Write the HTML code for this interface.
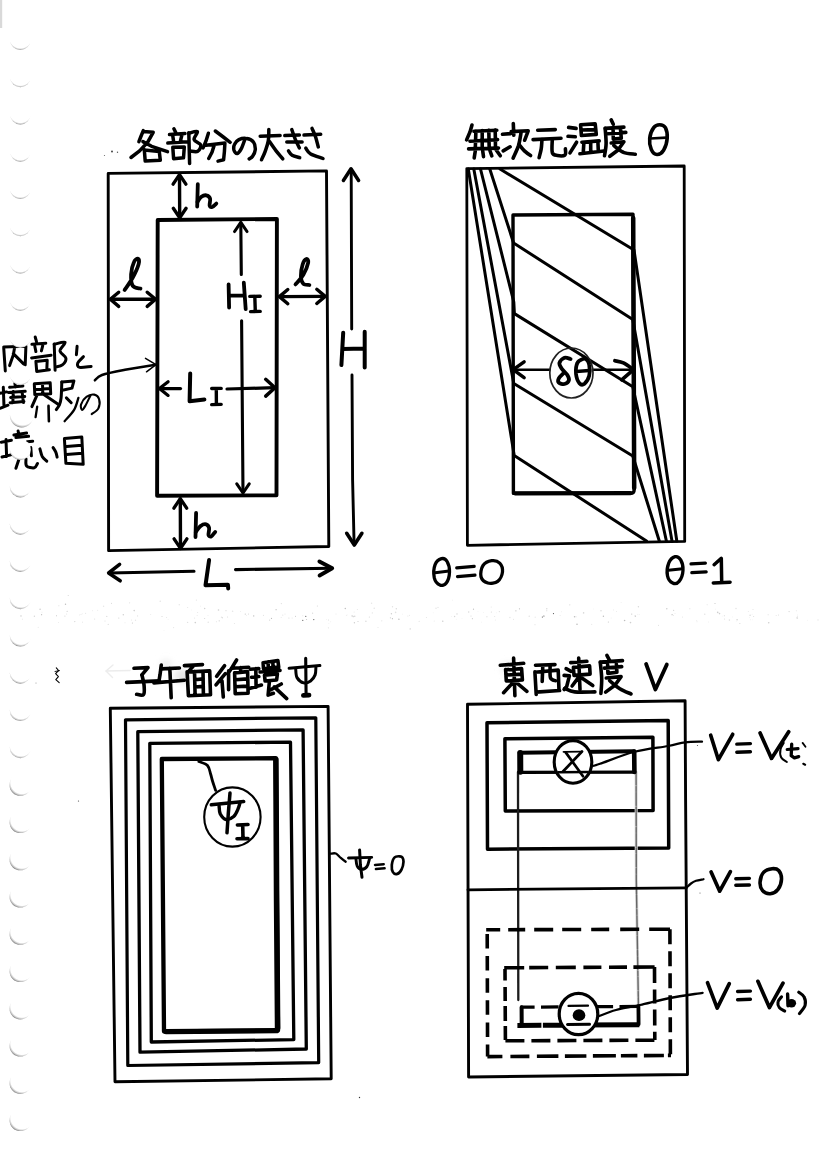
<!DOCTYPE html>
<html lang="ja">
<head>
<meta charset="utf-8">
<title>各部分の大きさ・無次元温度・子午面循環・東西速度</title>
<style>
html,body{margin:0;padding:0;background:#fff;font-family:"Liberation Sans",sans-serif;}
body{width:828px;height:1167px;overflow:hidden;}
svg{display:block;}
</style>
</head>
<body>
<svg width="828" height="1167" viewBox="0 0 828 1167">
<defs>
<radialGradient id="holeA" cx="51%" cy="37%" r="64%">
<stop offset="0" stop-color="#fff"/>
<stop offset="0.84" stop-color="#fff"/>
<stop offset="0.93" stop-color="#c8c8c8"/>
<stop offset="0.98" stop-color="#8c8c8c"/>
<stop offset="1" stop-color="#7c7c7c"/>
</radialGradient>
<radialGradient id="holeB" cx="54%" cy="37%" r="65%">
<stop offset="0" stop-color="#fff"/>
<stop offset="0.81" stop-color="#fff"/>
<stop offset="0.91" stop-color="#c8c8c8"/>
<stop offset="0.97" stop-color="#8a8a8a"/>
<stop offset="1" stop-color="#777"/>
</radialGradient>
<radialGradient id="holeC" cx="58%" cy="38%" r="67%">
<stop offset="0" stop-color="#fff"/>
<stop offset="0.78" stop-color="#fff"/>
<stop offset="0.88" stop-color="#c8c8c8"/>
<stop offset="0.96" stop-color="#808080"/>
<stop offset="1" stop-color="#6c6c6c"/>
</radialGradient>
<filter id="smudge" x="-50%" y="-50%" width="200%" height="200%"><feGaussianBlur stdDeviation="3"/></filter>
<filter id="soft" x="-2%" y="-2%" width="104%" height="104%"><feGaussianBlur stdDeviation="0.3"/></filter>
</defs>
<rect width="828" height="1167" fill="#fff"/>
<g fill="none" stroke="#000" stroke-linecap="round" stroke-linejoin="round" filter="url(#soft)">
<g filter="url(#smudge)" stroke="none"><ellipse cx="183" cy="676" rx="9" ry="7" fill="#e4e4e4"/><ellipse cx="166" cy="664" rx="6" ry="4" fill="#ededed"/><ellipse cx="508" cy="668" rx="7" ry="6" fill="#efefef"/></g>
<g><desc>各部分の大きさ : h, ℓ, H_I, L_I, H, L ／ 内部と境界層の境い目</desc>
<path d="M108.2 173.4 L326.5 170.9 L328.8 546.5 L108.6 550.6Z" stroke="#000" stroke-width="2.9"/>
<path d="M157.7 220 L276.9 219 L276.5 495.3 L157.1 495.7Z" stroke="#000" stroke-width="3.9"/>
<path d="M179.5 175 L179.7 217.5" stroke="#000" stroke-width="3.4"/>
<path d="M185.9 184.1 L179.5 174.6 L173.1 184.1" stroke="#000" stroke-width="3.4"/>
<path d="M173.3 208.3 L179.7 217.8 L186.1 208.3" stroke="#000" stroke-width="3.4"/>
<path d="M180.3 499 L180.5 548" stroke="#000" stroke-width="3.4"/>
<path d="M186.7 508.1 L180.3 498.6 L173.9 508.1" stroke="#000" stroke-width="3.4"/>
<path d="M174.1 538.9 L180.5 548.4 L186.9 538.9" stroke="#000" stroke-width="3.4"/>
<path d="M110.5 299.3 L155.5 299.3" stroke="#000" stroke-width="3.4"/>
<path d="M118.7 292.2 L110.3 299.3 L118.7 306.4" stroke="#000" stroke-width="3.4"/>
<path d="M147.2 306.4 L155.6 299.3 L147.2 292.2" stroke="#000" stroke-width="3.4"/>
<path d="M279.6 296.6 L325 296.4" stroke="#000" stroke-width="3.4"/>
<path d="M287.8 289.5 L279.4 296.6 L287.8 303.7" stroke="#000" stroke-width="3.4"/>
<path d="M316.8 303.5 L325.2 296.4 L316.8 289.3" stroke="#000" stroke-width="3.4"/>
<path d="M240.8 223 L241.3 274.5" stroke="#000" stroke-width="3.1"/>
<path d="M247 231.5 L240.8 222.4 L234.6 231.5" stroke="#000" stroke-width="3.1"/>
<path d="M241.6 320.7 L243 492.3" stroke="#000" stroke-width="3.1"/>
<path d="M236.8 483.9 L243 493 L249.2 483.9" stroke="#000" stroke-width="3.1"/>
<path d="M159.6 388.6 L180.5 388.6" stroke="#000" stroke-width="3.2"/>
<path d="M168.1 381.8 L159.4 388.6 L168.1 395.4" stroke="#000" stroke-width="3.2"/>
<path d="M227 389 L274.8 387.7" stroke="#000" stroke-width="3.2"/>
<path d="M265.7 396.1 L275 387.7 L265.7 379.3" stroke="#000" stroke-width="3.5"/>
<path d="M351.2 170 L351.7 329" stroke="#000" stroke-width="2.9"/>
<path d="M358.6 180.5 L351 168.8 L343.4 180.5" stroke="#000" stroke-width="3.5"/>
<path d="M352 375 L352.6 480 L354.1 544" stroke="#000" stroke-width="2.9"/>
<path d="M346.7 533.3 L354.3 545 L361.9 533.3" stroke="#000" stroke-width="3.6"/>
<path d="M109.5 573 L194 571.2" stroke="#000" stroke-width="3.1"/>
<path d="M119.6 564.4 L108.6 573 L120.2 580.8" stroke="#000" stroke-width="3.5"/>
<path d="M235.5 569.6 L331.5 568.3" stroke="#000" stroke-width="3.1"/>
<path d="M319.6 575.5 L332.2 568.3 L319.4 561.5" stroke="#000" stroke-width="3.9"/>
<path d="M94.9 380.3 C96.1 379.4 97 376.8 102 375 C107 373.2 116.1 371.5 125 369.8 C133.9 368.1 150.4 365.6 155.5 364.8" stroke="#000" stroke-width="2.6"/>
<path d="M145.5 358.3 L156 364.6 L146.5 371.8" stroke="#000" stroke-width="1.5"/>
<path d="M197.8 184.2 L197.2 206.5" stroke="#000" stroke-width="3.8"/>
<path d="M197.5 201.9 C198.1 201 199.9 197.9 201.4 196.8 C202.9 195.7 205 195 206.4 195.4 C207.9 195.7 209.5 197 210.1 198.7 C210.6 200.4 209.3 204.1 209.6 205.5 C210 206.9 211.1 207.3 212.2 207 C213.4 206.6 215.6 204.2 216.3 203.6" stroke="#000" stroke-width="3.8"/>
<path d="M124.6 290 C125.9 288 130.2 282.3 132.5 278 C134.9 273.7 137.7 267.4 138.6 264.2 C139.5 261 138.8 259.1 138 258.7 C137.3 258.3 135.1 259.4 134 262 C132.8 264.6 131.3 270.4 131.1 274.3 C130.9 278.3 131.3 283.6 132.8 285.9 C134.4 288.3 139.2 288.1 140.5 288.6" stroke="#000" stroke-width="3.8"/>
<path d="M196.1 512.9 L195.5 537" stroke="#000" stroke-width="3.8"/>
<path d="M195.8 531.9 C196.7 530.9 199 527.1 200.7 525.9 C202.4 524.6 204.7 524 206.1 524.3 C207.5 524.7 208.7 526.2 209.1 528 C209.5 529.7 208.2 533.5 208.5 534.9 C208.9 536.3 210.1 536.9 211.2 536.4 C212.4 535.9 214.5 532.7 215.2 531.9" stroke="#000" stroke-width="3.8"/>
<path d="M209.1 560 L205.5 585.3 L227.9 584.7 L228.2 588.4" stroke="#000" stroke-width="4"/>
<path d="M295.5 284.4 C296.8 282.8 301.2 278.4 303.3 274.7 C305.4 271.1 307.7 265.3 308.2 262.7 C308.7 260 307.3 258.8 306.4 259 C305.4 259.3 303.6 261.3 302.7 264.2 C301.8 267 300.8 273 300.9 276.2 C301 279.5 301.9 282.3 303.3 283.8 C304.7 285.3 308.4 284.8 309.4 285" stroke="#000" stroke-width="3.8"/>
<path d="M228.6 284.4 L229.1 307.5 M243.8 282.7 L245.7 309.2 M229.1 295.7 L244.7 295.4" stroke="#000" stroke-width="3.8"/>
<path d="M249.8 296.4 L260.2 296.2 M254.8 296.4 L255.3 311.4 M250.6 311.6 L260.2 311.4" stroke="#000" stroke-width="3.4"/>
<path d="M190.2 373.5 L189.6 401.2 L204.4 399.5" stroke="#000" stroke-width="4"/>
<path d="M211.7 388.5 L221.2 388.4 M216.3 388.5 L216.4 404.4 M211.7 404.6 L221.2 404.4" stroke="#000" stroke-width="3.4"/>
<path d="M343.2 332.7 L341.4 365.1 M364.7 331.7 L364.7 367.6 M342.4 348.9 L364.7 348.6" stroke="#000" stroke-width="4"/>
<path d="M143.3 130.6 L140.7 137 L138.9 141.6 M143.3 131.4 L153.2 132.3 L147.6 142.3 L139.6 150.9 L131 157.5 M142.9 141.6 L151.6 146.3 L167.5 151.6 M144.3 149.6 L145.2 161.1 L160.3 160.3 L159.3 151.6 L144.3 150" stroke="#000" stroke-width="3.5"/>
<path d="M173.9 128.7 L176.1 133.2 M169.5 134.6 L185 133.5 M172.8 135.9 L173.6 141.6 M181.9 135 L180.3 141.6 M167.8 143.1 L187.4 141.7 M172.8 147.3 L173.6 158.7 L183.5 157.8 L184.3 146.9 L172.8 147.3 M188.8 132.7 L189.6 163.5" stroke="#000" stroke-width="3.5"/>
<path d="M188.8 133.2 C190.2 133 196.5 130.6 197.4 131.6 C198.3 132.7 193.5 137.4 194.1 139.6 C194.6 141.8 200.1 143 200.7 144.9 C201.3 146.9 199.5 150.3 197.8 151.3 C196.1 152.3 191.6 151.1 190.4 151" stroke="#000" stroke-width="3.5"/>
<path d="M208.4 133.2 L206 140.9 L203.1 147.9 M215.3 131 L223.3 137 L230.2 142.3 M206 145.2 L224.9 142.9 L224.4 151.6 L223.6 159.8 L218 161.1 M214.3 144.9 L212 152.2 L208.7 158.5" stroke="#000" stroke-width="3.5"/>
<path d="M244.9 139.3 C244.3 140.9 242.5 146.5 241.2 148.9 C239.9 151.3 238.4 153.3 237.2 153.6 C236 153.8 234.5 151.8 234 150.2 C233.6 148.7 233.7 146 234.6 144.3 C235.4 142.5 236.9 140.6 238.9 139.6 C241 138.7 244.5 138.1 246.9 138.6 C249.4 139 252.2 140.4 253.6 142.3 C255 144.1 255.4 147.3 255.3 149.6 C255.1 151.9 253.7 154.7 252.6 156.2 C251.6 157.8 249.8 158.4 249.2 158.9" stroke="#000" stroke-width="3.5"/>
<path d="M260.2 136.3 L280.1 135.6" stroke="#000" stroke-width="3.5"/>
<path d="M268.8 129.6 C268.8 131.5 268.9 137.3 268.3 140.9 C267.7 144.6 266.2 148.4 265.1 151.6 C264 154.7 262.1 158.4 261.5 159.8" stroke="#000" stroke-width="3.5"/>
<path d="M269.5 141.6 C270.6 143.2 273.9 148 276.1 150.9 C278.4 153.8 281.7 157.5 282.8 158.9" stroke="#000" stroke-width="3.5"/>
<path d="M284.8 135.6 L299.4 135 M286.8 142 L302.1 142" stroke="#000" stroke-width="3.5"/>
<path d="M291.8 129.6 C292.4 131.3 294.1 136.6 295.4 139.6 C296.7 142.6 298.7 146.5 299.4 147.9" stroke="#000" stroke-width="3.5"/>
<path d="M288.5 150.9 C289.1 151.6 290.2 154.2 292.1 155.3 C293.9 156.4 298.4 157.3 299.7 157.7" stroke="#000" stroke-width="3.5"/>
<path d="M304 135.1 L320.7 134.3" stroke="#000" stroke-width="3.5"/>
<path d="M312 128.3 C312.6 129.8 314.6 133.9 315.6 137 C316.6 140.1 317.8 145.3 318.3 146.9" stroke="#000" stroke-width="3.5"/>
<path d="M305.8 148.2 C306.6 149.2 307.8 152.3 310.7 154 C313.6 155.7 321 157.7 323 158.5" stroke="#000" stroke-width="3.5"/>
<path d="M3.7 347.6 L5.3 370.9 M3.7 347 L25.9 346.3 L25.2 364.9 M14.6 347.6 L13.3 354.9 L9.6 365.6 M13.3 353.6 L24.6 364.9" stroke="#000" stroke-width="3"/>
<path d="M35.2 337 L36.5 341.6 M31.9 344.3 L45.8 343.2 M34.8 346.2 L35.9 351.6 M42.8 345.4 L41.4 350.9 M31.6 357.9 L51.1 355.3 M35.9 361.3 L36.7 371.4 L49.4 369.8 M35.9 361.6 L47.2 360.2 L46.8 370.1 M54.2 344 L55.1 370.2" stroke="#000" stroke-width="3"/>
<path d="M54.2 344.3 C56 344 64.1 341.2 65.1 342.3 C66.1 343.4 59.9 348.3 60 350.9 C60.2 353.6 65.5 355.9 65.9 358.2 C66.3 360.6 64.1 363.5 62.4 364.9 C60.8 366.3 56.9 366.6 55.8 366.9" stroke="#000" stroke-width="3"/>
<path d="M77.1 346.3 L76.4 354.7" stroke="#000" stroke-width="3"/>
<path d="M83.4 356.7 C82.5 357.7 78.3 361.4 77.7 363.2 C77.1 365 77.5 366.9 79.7 367.4 C81.9 367.9 89.2 366.5 91.1 366.4" stroke="#000" stroke-width="3"/>
<path d="M3.3 387.3 L4 406.6 M0 393.3 L6.6 391.9 M0 408.3 L8 405.2 M9.6 387.3 L22.9 386 M14.9 383.3 L15.4 387.3 M8.6 392.6 L25.2 391.3 M10.6 397.5 L24.7 396.6 M10.1 402.7 L23.9 401.4 M13.3 391.6 L12.8 402.7 M22.1 391.6 L23.4 402.7" stroke="#000" stroke-width="3"/>
<path d="M34.3 384 L34.8 394.6 L50.7 393.7 L50.2 382.8 L34.3 383.8 M34.8 389.4 L50.5 388.4 M42.5 383.3 L42.8 393.9 M36.9 395.3 L31.9 406.6 M43.8 394.6 L58.5 404.6" stroke="#000" stroke-width="3"/>
<path d="M37.2 406.6 L35.6 417.2" stroke="#000" stroke-width="2.3"/>
<path d="M48.5 405.9 L48.9 421.2" stroke="#000" stroke-width="2.6"/>
<path d="M61.8 382 L73.9 380.9 L72 388.1 L62.4 390.2 M66.4 397.9 L71.2 402.7" stroke="#000" stroke-width="3"/>
<path d="M61.8 382 C61.7 384.6 61.5 394.2 61.1 397.9 C60.7 401.7 60.3 402.6 59.5 404.6 C58.7 406.5 56.9 408.8 56.3 409.6" stroke="#000" stroke-width="3"/>
<path d="M78.4 397.9 C77.7 399.9 76.4 406 74.1 409.9 C71.8 413.8 66.2 419.3 64.6 421.2" stroke="#000" stroke-width="2.3"/>
<path d="M90.6 395.3 C89.7 397 86.7 403.5 85.3 405.9 C83.9 408.3 82.8 410.1 82.1 409.9 C81.4 409.7 80.3 406.7 81 404.6 C81.7 402.4 84.1 398.5 86.4 396.9 C88.6 395.2 92.2 394.2 94.3 394.6 C96.4 395 98.4 396.9 99.1 399.3 C99.8 401.6 99.5 406.1 98.3 408.6 C97.1 411 92.8 413.2 91.7 414.1" stroke="#000" stroke-width="2.1"/>
<path d="M6 439.6 L6.6 456.4 M1.3 442.3 L11.4 440.3 M2 457 L10.9 454.9 M18.1 431 L18.9 435.1 M13.9 435.1 L26.6 433 M15.9 437.6 L28.6 436.3 M27.2 441.7 L32.7 441.2 M30.8 447.6 L31.4 455.8 M18.6 460.2 L15.9 468.3" stroke="#000" stroke-width="3"/>
<path d="M26 458.9 C26.1 460.1 25.2 464.4 26.6 465.9 C27.9 467.4 32.5 468.2 34.3 467.8 C36.1 467.4 36.9 464.2 37.5 463.5" stroke="#000" stroke-width="3"/>
<path d="M39.9 448.9 C40.3 450.2 41.1 454.3 42.2 456.4 C43.4 458.4 46 460.3 46.8 461.1" stroke="#000" stroke-width="3"/>
<path d="M53.1 447.6 C53.6 448.4 55.1 450.6 55.8 452.2 C56.5 453.8 56.9 456.3 57.1 457.1" stroke="#000" stroke-width="3"/>
<path d="M64.4 438.8 L65.9 463.3 L83.2 464.3 L81.8 437 L64.4 438.6 M66.4 446.4 L81.8 445.2 M66.4 454.4 L82.4 453.2" stroke="#000" stroke-width="3"/>
</g>
<g><desc>無次元温度 θ : δθ, θ=0, θ=1</desc>
<path d="M466.8 168.6 L684.2 166 L684.7 541.4 L467.4 545.3Z" stroke="#000" stroke-width="2.8"/>
<path d="M513.4 493 L513 215 L633 214.3 L634.2 489.5 Q634.2 493.5 630.5 493.4 L513.4 493.4" stroke="#000" stroke-width="3.4"/>
<path d="M633.2 218 L634.2 488" stroke="#000" stroke-width="4.5"/>
<path d="M515 493.3 L630.5 493.2" stroke="#000" stroke-width="4.2"/>
<path d="M489.8 169 L513.6 243 L632.8 319.5 L672 541" stroke="#000" stroke-width="3"/>
<path d="M480.5 169 L513.8 302 L514.4 313.6 L632.8 386.8 L666.4 541" stroke="#000" stroke-width="3"/>
<path d="M473.8 169 L513.8 383.5 L632.8 456 L659.3 541" stroke="#000" stroke-width="3"/>
<path d="M468.3 169 L514.2 455.5 L646.5 541" stroke="#000" stroke-width="3"/>
<path d="M500 169 L634 250 L676.8 541" stroke="#000" stroke-width="3"/>
<path d="M514 369.7 L549.3 369.7" stroke="#000" stroke-width="2.6"/>
<path d="M593 369.7 L632.5 369.7" stroke="#000" stroke-width="2.6"/>
<path d="M524.1 361.8 L513.2 369.7 L524.1 377.6" stroke="#000" stroke-width="3.5"/>
<path d="M614.9 360.7 C616.3 361.1 620.3 361.4 623.4 362.9 C626.5 364.4 631.8 368.5 633.5 369.7" stroke="#000" stroke-width="3.7"/>
<path d="M633.5 369.7 L621.7 379.8" stroke="#000" stroke-width="3.7"/>
<ellipse cx="571.4" cy="373" rx="21.6" ry="25" stroke="#222" stroke-width="1.7" fill="none"/>
<path d="M570.6 359 C569.6 358.8 566.4 357.2 564.5 357.8 C562.7 358.5 559.9 361.1 559.4 362.9 C559 364.7 560.5 366.8 561.8 368.8 C563.1 370.8 566 372.8 567.2 374.7 C568.4 376.7 569.4 378.8 568.9 380.3 C568.5 381.9 566.2 383.6 564.5 384 C562.8 384.4 559.7 383.6 558.8 382.7 C557.8 381.7 558 379.9 558.8 378.3 C559.6 376.7 562.7 374.1 563.5 373.2" stroke="#000" stroke-width="3.8"/>
<path d="M582.8 359 C581.3 359.6 578.5 360.4 577.4 362.9 C576.2 365.4 575.7 370.5 576 373.9 C576.4 377.3 578 381.6 579.4 383.2 C580.8 384.8 582.8 385 584.5 383.7 C586.1 382.4 588.4 378.8 589.2 375.6 C590 372.4 589.7 367.3 589.2 364.6 C588.8 361.9 587.6 360.4 586.5 359.5 C585.4 358.6 584.3 358.4 582.8 359Z" stroke="#000" stroke-width="3.8"/>
<path d="M576.4 371.5 L589.2 370.5" stroke="#000" stroke-width="3.3"/>
<path d="M441.5 558.7 C439.5 559.3 436.3 561.5 435.1 564.7 C433.9 567.9 433.6 574.5 434.3 577.9 C435.1 581.2 437.9 584.2 439.9 585 C441.9 585.9 444.7 585.2 446.3 583 C447.9 580.9 449.4 575.5 449.5 571.9 C449.6 568.3 448.4 563.7 447.1 561.5 C445.8 559.3 443.5 558.2 441.5 558.7Z" stroke="#000" stroke-width="3.3"/>
<path d="M435.1 572.7 L449.1 571.1" stroke="#000" stroke-width="3"/>
<path d="M456.7 567.9 L474.2 566.3" stroke="#000" stroke-width="3.2"/>
<path d="M457.5 576.7 L475 575.1" stroke="#000" stroke-width="3.2"/>
<path d="M491.7 560.7 C488.9 561.1 484.8 562.9 483 565.5 C481.2 568.2 480.2 573.7 481 576.7 C481.8 579.6 485 582.2 487.8 583 C490.5 583.8 495.3 583.3 497.7 581.4 C500.2 579.6 502.2 574.9 502.5 571.9 C502.8 568.8 501.5 565 499.7 563.1 C497.9 561.3 494.5 560.3 491.7 560.7Z" stroke="#000" stroke-width="3.3"/>
<path d="M675.1 556.7 C673.1 557.3 670 559.9 668.7 563.1 C667.4 566.3 666.8 572.5 667.5 575.9 C668.2 579.2 670.8 582.1 672.7 583 C674.6 584 677.3 583.6 679.1 581.4 C680.8 579.3 682.8 573.9 683 570.3 C683.3 566.7 682 562.2 680.7 559.9 C679.3 557.7 677.1 556.2 675.1 556.7Z" stroke="#000" stroke-width="3.3"/>
<path d="M668.3 570.3 L682.6 568.7" stroke="#000" stroke-width="3"/>
<path d="M691 563.9 L705.4 563.1" stroke="#000" stroke-width="3.2"/>
<path d="M691.8 572.7 L706.2 571.9" stroke="#000" stroke-width="3.2"/>
<path d="M714.1 564.7 L721.3 558.3 L721.7 582.2" stroke="#000" stroke-width="3.5"/>
<path d="M713.3 583 L730.1 582.2" stroke="#000" stroke-width="3.5"/>
<path d="M472 125 L470 131.9 L466.6 139.9 M474 131.3 L496.8 130.3 M470 141.2 L497.6 139.6 M468.6 148.9 L498.5 148.1 M475.9 131.1 L475.3 148.6 M482.2 130.6 L482.2 148.6 M488.8 130.3 L489.2 148.4 M495.2 130 L495.5 148.1 M475.3 151 L474.2 157.9 M482.7 151 L483.5 156.6 M489.9 150.5 L491.8 155.8 M496 149.7 L500.3 155.8" stroke="#000" stroke-width="3.6"/>
<path d="M502.5 134.3 L510.5 133.6 M503.2 150.9 L510.1 146.8 M513.3 123.6 L513.8 135.3 M511.2 131.6 L528.2 130.8 L524.7 140.2" stroke="#000" stroke-width="3.6"/>
<path d="M521.1 132.3 C520.7 134.5 519.8 141.2 518.5 145.6 C517.1 149.9 514 156.1 513.1 158.2" stroke="#000" stroke-width="3.6"/>
<path d="M519.1 144.6 C520 145.7 522.5 149.1 524.4 150.9 C526.3 152.7 529.5 154.8 530.6 155.5" stroke="#000" stroke-width="3.6"/>
<path d="M537.7 130.3 L555.3 129.6 M533.1 139.6 L561 138.3" stroke="#000" stroke-width="3.6"/>
<path d="M542 139.6 C541.8 141.1 541.7 145.9 541.2 148.9 C540.7 151.9 539.4 156.2 539.1 157.7" stroke="#000" stroke-width="3.6"/>
<path d="M552.3 139.1 C552.3 141.3 551.5 149.9 552.3 152.6 C553.2 155.3 555.3 155.1 557.4 155.5 C559.5 155.9 563.6 156.1 565 155 C566.3 153.9 565.3 149.9 565.4 148.9" stroke="#000" stroke-width="3.6"/>
<path d="M568.6 127.4 L576.1 128.4 M568 136.3 L575.3 136.8 M570 152.9 L576.6 142.2 M580.6 125 L581.4 135.5 L596.3 134.4 L595.2 123.9 L580.6 124.7 M581.4 130 L595.5 129.6 M581.9 142.2 L599.2 140.9 M583.9 142.2 L583.3 151.8 M590.7 141.7 L590.7 151.8 M597.9 141.2 L598.3 151 M579.9 153.7 L604 151" stroke="#000" stroke-width="3.6"/>
<path d="M611.2 119.9 L613.3 124.3 M605.2 128.4 L623.9 127.1 M607.8 133.7 L625.8 132.4 M613.1 129.6 L613.3 139.1 L621.3 138.3 L620.5 129" stroke="#000" stroke-width="3.6"/>
<path d="M605.2 128.4 C605.3 130.9 606.2 139 606.1 143.6 C606 148.1 604.8 153.8 604.5 155.8" stroke="#000" stroke-width="3.6"/>
<path d="M611.2 143 L623.9 141.7 L617.8 150.2 L609.8 156.3" stroke="#000" stroke-width="3.6"/>
<path d="M613.8 145.6 C615.4 146.7 619.8 150.9 623.4 152.3 C627 153.8 633.3 154 635.3 154.3" stroke="#000" stroke-width="3.6"/>
<path d="M659.6 124.7 C657.7 124.7 655.3 125.4 653.7 127.6 C652 129.9 650.1 134.6 649.7 138.3 C649.3 141.9 650.1 146.8 651.3 149.5 C652.5 152.2 654.9 154.4 657 154.5 C659 154.6 661.9 152.9 663.6 150.2 C665.3 147.5 666.9 142 667.2 138.3 C667.5 134.5 666.6 129.9 665.4 127.6 C664.1 125.4 661.6 124.7 659.6 124.7Z" stroke="#000" stroke-width="3.6"/>
<path d="M650.3 138.5 L666.7 137.6" stroke="#000" stroke-width="2.6"/>
</g>
<g><desc>子午面循環 ψ : ψ_I, ψ=0</desc>
<path d="M110.3 708.3 L328.1 706.4 L331.2 1078.8 L115 1081.8Z" stroke="#000" stroke-width="2.9"/>
<path d="M125.5 719.8 L315.8 717.8 L318.7 1062.6 L127.8 1065.5Z" stroke="#000" stroke-width="3.2"/>
<path d="M137.8 731.7 L303.1 729.9 L306.3 1049 L140 1052.2Z" stroke="#000" stroke-width="3.3"/>
<path d="M149.8 743.3 L290.5 742.2 L293.8 1039.6 L151.3 1042Z" stroke="#000" stroke-width="3.3"/>
<path d="M161.8 759 L275.8 758.2 L278 1030.5 L164 1031.5Z" stroke="#000" stroke-width="4.3"/>
<path d="M275.9 759.5 L276.6 900 L277.6 1028" stroke="#000" stroke-width="5.6"/>
<path d="M166 1031.6 L276.5 1030.7" stroke="#000" stroke-width="5.2"/>
<ellipse cx="232.4" cy="817" rx="28.2" ry="29.6" stroke="#000" stroke-width="2.1" fill="#fff"/>
<path d="M198.9 761.5 C200.3 762.2 205.6 763.4 207.5 765.5 C209.4 767.6 209.8 771.4 210.6 774 C211.4 776.6 211.7 778.3 212.5 781 C213.3 783.7 215.1 788.8 215.6 790.4" stroke="#000" stroke-width="2.8"/>
<path d="M230 793 L228.3 813.5 L227 832.8" stroke="#000" stroke-width="3.5"/>
<path d="M211.3 804.8 L243.7 801.6" stroke="#000" stroke-width="3.5"/>
<path d="M219.1 805.9 C219.3 807.2 219.1 811.4 220.2 813.7 C221.4 816 223.8 819 226.1 819.5 C228.3 819.9 231.7 818.2 233.7 816.5 C235.7 814.8 237 811.4 238 809.1 C239.1 806.8 239.7 803.7 240 802.6" stroke="#000" stroke-width="3.4"/>
<path d="M237.4 825 L248 824.5 M242.7 825 L243 838.5 M237 838.8 L248 838.6" stroke="#000" stroke-width="3.6"/>
<path d="M330.4 853.7 C331.3 853.7 334.1 852.8 335.9 853.5 C337.6 854.2 339.1 856.6 340.8 857.9 C342.4 859.3 344.8 861.1 345.7 861.7" stroke="#000" stroke-width="2.3"/>
<path d="M359.6 850 L360.4 865 L362 877.3" stroke="#000" stroke-width="3"/>
<path d="M348.5 858 L371.7 857.4" stroke="#000" stroke-width="2.9"/>
<path d="M355.9 858.5 C356.1 859.7 356.2 864.3 357.2 866.1 C358.1 867.9 359.9 869.3 361.5 869.3 C363.2 869.4 365.6 868.3 367 866.5 C368.3 864.7 369.1 859.8 369.6 858.5" stroke="#000" stroke-width="2.9"/>
<path d="M375 864.9 L383.7 864.2 M375.9 868.9 L384.6 868.3" stroke="#000" stroke-width="2.5"/>
<path d="M400 856.3 C398.7 856.3 395.9 855.9 394.6 857.4 C393.2 858.8 392.1 862.6 391.8 865 C391.6 867.4 392 870.6 392.9 872.1 C393.8 873.6 395.8 874.4 397.3 873.9 C398.7 873.5 400.6 871.4 401.6 869.3 C402.7 867.3 403.4 863.7 403.5 861.7 C403.6 859.7 403 858.3 402.4 857.4 C401.8 856.5 401.3 856.3 400 856.3Z" stroke="#000" stroke-width="2.7"/>
<path d="M134 668.3 L148 667.6 L141.9 674.9 M126.6 682.4 L159.5 680.9" stroke="#000" stroke-width="3.6"/>
<path d="M141.9 674.9 C142.3 676.7 143.8 682.3 144.1 685.6 C144.3 688.8 144.8 693.1 143.5 694.6 C142.3 696.1 137.8 694.4 136.6 694.3" stroke="#000" stroke-width="3.6"/>
<path d="M161.2 668.9 L179.4 668 M153.9 682.9 L184.4 680.2 M169.8 668.3 L171.2 697.8" stroke="#000" stroke-width="3.6"/>
<path d="M161.3 665 C161.1 666.6 160.3 672.5 160 674.9 C159.6 677.4 159.3 678.9 159.2 679.7" stroke="#000" stroke-width="3.6"/>
<path d="M184.4 665.6 L202.5 664.6 M193.7 665.6 L188.4 671.6 M187.1 671.7 L188.4 695.7 L210.5 694.7 L209.7 670.9 L187.1 672 M194.5 671.6 L195.1 694.9 M203 671.2 L203.4 694.6 M194.8 679.7 L203.3 678.9 M194.9 687 L203.3 686.4" stroke="#000" stroke-width="3.6"/>
<path d="M224.6 665.6 L216.6 676.3 M225.3 673.6 L216 684.9 M222 680.9 L223.3 697 M236.6 660 L231.9 667.6 L227.9 673.9 M228.6 670.9 L228.6 689.8 M231.9 668.3 L248.7 667.2 M240.6 667.6 L240.6 672.3 M234.6 672.9 L235.2 693.8 L248.1 693.3 L247.6 671.6 L234.6 672.9 M235.2 679.7 L247.6 678.9 M235.2 686.8 L247.6 686.1" stroke="#000" stroke-width="3.6"/>
<path d="M250.3 669.3 L258.8 668.6 M255.8 668.6 L256.1 687.3 M251.6 677.3 L258.8 676.5 M249.2 688.5 L261.4 685 M263.1 662.7 L277.9 660.6 L278.7 667 L263.5 668.6 L263.1 662.7 M268.1 661.9 L268.3 668 M272.8 661.4 L273.1 667.5 M260.1 672 L280 670.4 M264.5 675.2 L277.4 673.9 L276.6 680 L265.1 681 L264.5 675.2 M269.4 681.3 L268.1 695.1 L273.4 693.3 M281.3 684 L270.5 689.8 M274.2 686.9 L286.7 698.6" stroke="#000" stroke-width="3.6"/>
<path d="M305.7 658.3 L306.1 694.9" stroke="#000" stroke-width="3.1"/>
<path d="M303.4 695.4 L309 695.1" stroke="#000" stroke-width="4.8"/>
<path d="M289.1 668.3 L319.9 665.6" stroke="#000" stroke-width="3"/>
<path d="M295.7 668.8 C295.9 670.3 295.7 675.2 297 677.6 C298.4 679.9 301.4 682.3 303.7 682.9 C305.9 683.5 308.7 682.2 310.6 680.9 C312.5 679.6 314.2 677.3 315.1 674.9 C316 672.6 315.8 668.3 315.9 667" stroke="#000" stroke-width="3"/>
</g>
<g><desc>東西速度 V : V=V(t), V=0, V=V(b)</desc>
<path d="M467.5 704.3 L685.1 700.8 L685.6 800 L687.5 1074.5 L468.6 1077Z" stroke="#000" stroke-width="2.9"/>
<path d="M487 722.8 L668.2 720.4 L668.7 848 L487.5 849.2Z" stroke="#000" stroke-width="3.5"/>
<path d="M504.9 738.7 L652.9 737.3 L653.1 810.6 L505.3 810.9Z" stroke="#000" stroke-width="3.5"/>
<path d="M518 772 L518.3 1000" stroke="#1c1c1c" stroke-width="2.3"/>
<path d="M636.1 772 L636.3 880 L638.4 1004" stroke="#d6d6d6" stroke-width="3"/>
<path d="M636.1 772 L636.3 880 L638.4 1004" stroke="#666" stroke-width="1.4" stroke-dasharray="13 1.5 5 1"/>
<path d="M519.6 752.7 L634 751.3" stroke="#000" stroke-width="4"/>
<path d="M519.6 772.3 L634.2 772.2" stroke="#000" stroke-width="3.3"/>
<path d="M520.2 753 L520.3 771.8" stroke="#000" stroke-width="6"/>
<path d="M634.2 751.6 L634.4 772" stroke="#000" stroke-width="4.6"/>
<path d="M467.9 889.8 L686.3 887.8" stroke="#000" stroke-width="2.7"/>
<path d="M686.3 887.8 C687.1 887.1 689.4 884.7 691 883.5 C692.6 882.3 693.9 881.5 696 880.8 C698.1 880.1 702.2 879.5 703.5 879.2" stroke="#000" stroke-width="2.2"/>
<path d="M486.2 929.8 L670 929.2" stroke="#000" stroke-width="3.6" stroke-dasharray="14 8 17 9 19 9 19 10 18 11 19 10 23 0" stroke-linecap="butt"/>
<path d="M487.2 931 L487.6 1056.4" stroke="#000" stroke-width="3.6" stroke-dasharray="14.5 7.6" stroke-dashoffset="-3" stroke-linecap="butt"/>
<path d="M669.9 929.2 L670.4 1055.6" stroke="#000" stroke-width="3.6" stroke-dasharray="15 7" stroke-linecap="butt"/>
<path d="M487.4 1056.6 L671 1055.4" stroke="#000" stroke-width="3.6" stroke-dasharray="15 8 19 7.5 21.5 6.5 21.5 6.5 23 5 16.5 6.5 20 4 4 0" stroke-linecap="butt"/>
<path d="M504.2 967.8 L654.6 967" stroke="#000" stroke-width="3.6" stroke-dasharray="20 5 19 7.6 20 7.6 18 7.6 18 6.4 21.6 0" stroke-linecap="butt"/>
<path d="M505 969 L505.4 1040.6" stroke="#000" stroke-width="3.6" stroke-dasharray="11.5 6.4 14 5 15 5 14 6" stroke-linecap="butt"/>
<path d="M654.5 967 L654.8 1040" stroke="#000" stroke-width="3.6" stroke-dasharray="16 6.4 14 6" stroke-linecap="butt"/>
<path d="M505.4 1040.8 L655 1040.2" stroke="#000" stroke-width="3.6" stroke-dasharray="19 7" stroke-linecap="butt"/>
<path d="M520.6 1007.2 L638.6 1006.4" stroke="#000" stroke-width="3.3" stroke-dasharray="14 6.4 17.6 38 16.5 6.4 20.5 0" stroke-linecap="butt"/>
<path d="M517.4 1025.4 L639.4 1024.8" stroke="#000" stroke-width="5" stroke-dasharray="24 1.5 30 1.5 64 0" stroke-linecap="butt"/>
<path d="M521.6 1007.2 L521.7 1024.6" stroke="#000" stroke-width="4"/>
<path d="M638.4 1006.2 L638.6 1024.2" stroke="#000" stroke-width="3.8"/>
<ellipse cx="573" cy="761.9" rx="18.8" ry="21.3" stroke="#000" stroke-width="3.1" fill="#fff"/>
<path d="M565.7 752.4 L583 776.2" stroke="#000" stroke-width="2.7"/>
<path d="M582 751.5 L563 771.5" stroke="#000" stroke-width="2.7"/>
<path d="M563.5 751.8 L581.5 751.6" stroke="#000" stroke-width="1.8"/>
<path d="M558.5 772.2 L587.5 772" stroke="#000" stroke-width="2.6"/>
<path d="M593.7 765.8 C594.8 765.5 593.2 766.1 600 763.8 C606.8 761.5 623 754.8 634.4 751.8 C645.8 748.8 659.8 747.6 668.2 746 C676.7 744.4 679.5 743 685.1 742.3 C690.7 741.6 699.2 741.7 702 741.6" stroke="#000" stroke-width="2.2"/>
<ellipse cx="578.5" cy="1014" rx="19.3" ry="20.7" stroke="#000" stroke-width="3.2" fill="#fff"/>
<path d="M568.5 1005.9 L588 1005.7" stroke="#000" stroke-width="2.2"/>
<path d="M567.5 1024.4 L589.5 1024.2" stroke="#000" stroke-width="3"/>
<ellipse cx="579" cy="1015.2" rx="6.3" ry="5.9" fill="#000" stroke="none"/>
<path d="M598 1016.6 C601 1015.5 609 1011.9 616 1010 C623 1008.1 631 1007 640 1005 C649 1003 659.6 1000 670 998 C680.4 996 697.2 993.7 702.6 992.8" stroke="#000" stroke-width="2.3"/>
<path d="M710.7 735.2 L718.4 759.7 L732.7 734.3" stroke="#000" stroke-width="3.7"/>
<path d="M736.8 744.1 L750.4 743.6 M736.8 752.2 L750.4 751.8" stroke="#000" stroke-width="3.4"/>
<path d="M760.1 732.9 L771.5 758.4 L788.7 731.8" stroke="#000" stroke-width="3.7"/>
<path d="M783.7 742.9 C783.1 744 780.9 747 780.5 749.5 C780 751.9 780.1 755.5 781.2 757.5 C782.2 759.6 785.9 761.3 786.9 762" stroke="#000" stroke-width="2"/>
<path d="M791.7 744.1 L791.2 755.7 L794.4 757.9 L798.7 756.6" stroke="#000" stroke-width="3.3"/>
<path d="M787.2 749.5 L798 748.6" stroke="#000" stroke-width="3.2"/>
<path d="M802.6 742.9 L805.5 746.8" stroke="#000" stroke-width="1.8"/>
<path d="M803.3 763.8 L805.1 764.7" stroke="#000" stroke-width="2.2"/>
<path d="M711.1 871.9 L719.7 891.2 L730.4 871.6" stroke="#000" stroke-width="3.7"/>
<path d="M735.8 878.7 L749.4 878.4 M735.8 885.3 L749.4 885" stroke="#000" stroke-width="3.4"/>
<path d="M772.1 868.7 C769.6 869 766 869.8 764 871.9 C762 874.1 760.3 878.6 760.1 881.8 C759.8 884.9 760.9 888.7 762.6 890.7 C764.3 892.7 767.7 893.9 770.3 893.7 C772.8 893.5 776.1 891.9 778 889.4 C779.8 887 781.4 882.2 781.5 879.1 C781.6 875.9 780.2 872.2 778.7 870.5 C777.1 868.8 774.5 868.5 772.1 868.7Z" stroke="#000" stroke-width="3.6"/>
<path d="M707.5 982.7 L717.2 1008.1 L729.3 983.6" stroke="#000" stroke-width="3.7"/>
<path d="M737.6 991.5 L750.4 991.1 M737.6 999.7 L750.4 999.3" stroke="#000" stroke-width="3.4"/>
<path d="M757.9 981.3 L769.4 1007.6 L783 983.2" stroke="#000" stroke-width="3.7"/>
<path d="M781.5 996.8 C780.9 997.7 778.3 1000 778 1001.8 C777.6 1003.6 778.2 1006 779.4 1007.6 C780.5 1009.1 783.9 1010.5 784.7 1011.1" stroke="#000" stroke-width="3.1"/>
<path d="M787.6 994 L788 1005.8" stroke="#000" stroke-width="3.4"/>
<ellipse cx="791.5" cy="1003.3" rx="4.6" ry="4.2" fill="#000" stroke="none"/>
<path d="M798.7 992.2 C799.6 993 803 994.6 804 996.8 C805.1 999 805.9 1002.6 805.1 1005.4 C804.3 1008.2 800.4 1012.3 799.4 1013.6" stroke="#000" stroke-width="3.1"/>
<path d="M500.3 665.3 L523.7 663.3 M513.6 658 L514.9 695.8 M505.6 669.5 L506.3 681 L522.4 679.9 L521.6 668.6 L505.6 669.8 M506.3 675 L521.8 674.1 M513.6 681.9 L503.6 692.7 M515.6 681.9 L526.9 691.3" stroke="#000" stroke-width="3.6"/>
<path d="M535.5 665.3 L555 664.6 M534.9 671.9 L536.2 694.5 M534.9 672.2 L558.2 670.1 L559 690.5 M536.2 692.1 L559.6 690.5 M542.8 665.3 L542.2 681.5" stroke="#000" stroke-width="3.6"/>
<path d="M550.1 665 C550.2 667.2 549.6 675.3 550.5 677.9 C551.4 680.5 554.7 680.2 555.6 680.7" stroke="#000" stroke-width="3.6"/>
<path d="M566.1 668.6 L571 671.4 M564.1 675.4 L569.4 675.9 L566.7 686.5 L564.1 689.5 M570.7 662.6 L586.9 661.3 M578.7 658 L580 689.5 M573.4 667.4 L589.6 665.9 L590.1 674.1 L574 675.4 L573.4 667.4 M578.7 677.2 L572.1 686 M580.7 677.2 L592.8 685.5" stroke="#000" stroke-width="3.6"/>
<path d="M564.7 688.5 C566.4 689.1 569.7 691.3 574.7 691.9 C579.7 692.4 591.5 691.9 594.9 691.9" stroke="#000" stroke-width="3.6"/>
<path d="M606.9 655.3 L609.7 660.6 M600.3 662.1 L622.5 660.6 M604.3 668.1 L621.7 666.6 M607.6 664.6 L607.9 673.4 L616.9 672.3 L616.4 664" stroke="#000" stroke-width="3.6"/>
<path d="M600.3 662.4 C600.5 665.1 601.6 673.4 601.7 678.6 C601.8 683.8 601.1 691 600.9 693.4" stroke="#000" stroke-width="3.6"/>
<path d="M606.3 678 L621.1 676.6 L614.9 685.2 L605.6 692.1" stroke="#000" stroke-width="3.6"/>
<path d="M609.6 680.6 C611.3 681.9 616.2 686.4 619.8 688.7 C623.4 690.9 629.1 693.1 631 694" stroke="#000" stroke-width="3.6"/>
<path d="M646.1 664 L655.4 689.5 L666.8 664.6" stroke="#000" stroke-width="3.8"/>
</g>
<path d="M56.3 667.8 L58.6 670.5 L55.6 673.6 L58.4 676.6 L55.8 679.6 L59.2 682.6" stroke="#000" stroke-width="1.1"/>
<path d="M55 671.5 L59.5 670.6" stroke="#000" stroke-width="0.9"/>
<path d="M106 671 L130 670.5" stroke="#ececec" stroke-width="1.4"/>
<path d="M113 665 L106 671 L112.5 677.5" stroke="#ececec" stroke-width="1.4"/>
<circle cx="269.6" cy="620.1" r="0.7" fill="#d8d8d8" stroke="none"/>
<circle cx="82.6" cy="622.1" r="0.4" fill="#bdbdbd" stroke="none"/>
<circle cx="419.1" cy="621.2" r="0.5" fill="#d8d8d8" stroke="none"/>
<circle cx="454.6" cy="616.5" r="0.7" fill="#d8d8d8" stroke="none"/>
<circle cx="106.8" cy="616.4" r="0.6" fill="#d8d8d8" stroke="none"/>
<circle cx="328.9" cy="623.3" r="0.4" fill="#e2e2e2" stroke="none"/>
<circle cx="704.8" cy="614.2" r="0.6" fill="#d8d8d8" stroke="none"/>
<circle cx="462" cy="618.2" r="0.4" fill="#e2e2e2" stroke="none"/>
<circle cx="471" cy="616" r="0.6" fill="#d8d8d8" stroke="none"/>
<circle cx="509.9" cy="617.5" r="0.7" fill="#e6e6e6" stroke="none"/>
<circle cx="354.1" cy="611.9" r="0.5" fill="#e6e6e6" stroke="none"/>
<circle cx="208.2" cy="622.3" r="0.7" fill="#e2e2e2" stroke="none"/>
<circle cx="204.7" cy="608.5" r="0.7" fill="#cfcfcf" stroke="none"/>
<circle cx="240.4" cy="611.7" r="0.4" fill="#d8d8d8" stroke="none"/>
<circle cx="346.4" cy="615.2" r="0.5" fill="#e6e6e6" stroke="none"/>
<circle cx="789.1" cy="611.6" r="0.7" fill="#d8d8d8" stroke="none"/>
<circle cx="472.4" cy="618.7" r="0.6" fill="#cfcfcf" stroke="none"/>
<circle cx="478" cy="611.3" r="0.4" fill="#e6e6e6" stroke="none"/>
<circle cx="82.2" cy="613.8" r="0.4" fill="#d8d8d8" stroke="none"/>
<circle cx="577" cy="624.2" r="0.8" fill="#bdbdbd" stroke="none"/>
<circle cx="675" cy="613.7" r="0.4" fill="#cfcfcf" stroke="none"/>
<circle cx="381.8" cy="620.8" r="0.6" fill="#e2e2e2" stroke="none"/>
<circle cx="407.9" cy="616" r="0.5" fill="#e2e2e2" stroke="none"/>
<circle cx="752.3" cy="619.8" r="0.4" fill="#e6e6e6" stroke="none"/>
<circle cx="371.6" cy="603.2" r="0.7" fill="#e6e6e6" stroke="none"/>
<circle cx="232.6" cy="611.2" r="0.8" fill="#e6e6e6" stroke="none"/>
<circle cx="561.7" cy="611.8" r="0.4" fill="#d8d8d8" stroke="none"/>
<circle cx="194.8" cy="618" r="0.4" fill="#e2e2e2" stroke="none"/>
<circle cx="682.5" cy="617" r="0.5" fill="#e2e2e2" stroke="none"/>
<circle cx="306.6" cy="619.4" r="0.5" fill="#bdbdbd" stroke="none"/>
<circle cx="108.2" cy="624.3" r="0.6" fill="#d8d8d8" stroke="none"/>
<circle cx="715" cy="603.6" r="0.5" fill="#bdbdbd" stroke="none"/>
<circle cx="330.8" cy="621.8" r="0.4" fill="#d8d8d8" stroke="none"/>
<circle cx="807.5" cy="620.2" r="0.4" fill="#e6e6e6" stroke="none"/>
<circle cx="282.8" cy="615.1" r="0.6" fill="#e2e2e2" stroke="none"/>
<circle cx="778.4" cy="615" r="0.4" fill="#bdbdbd" stroke="none"/>
<circle cx="717.7" cy="612.4" r="0.8" fill="#cfcfcf" stroke="none"/>
<circle cx="496.3" cy="612.8" r="0.4" fill="#e6e6e6" stroke="none"/>
<circle cx="697" cy="621.7" r="0.5" fill="#e6e6e6" stroke="none"/>
<circle cx="123.3" cy="614.7" r="0.7" fill="#cfcfcf" stroke="none"/>
<circle cx="395.6" cy="612.4" r="0.8" fill="#e2e2e2" stroke="none"/>
<circle cx="436" cy="608.2" r="0.7" fill="#e2e2e2" stroke="none"/>
<circle cx="750.1" cy="615.3" r="0.7" fill="#d8d8d8" stroke="none"/>
<circle cx="218.5" cy="610" r="0.8" fill="#cfcfcf" stroke="none"/>
<circle cx="295.5" cy="616.3" r="0.5" fill="#bdbdbd" stroke="none"/>
<circle cx="187.6" cy="622.4" r="0.7" fill="#e2e2e2" stroke="none"/>
<circle cx="672.1" cy="614.7" r="0.6" fill="#bdbdbd" stroke="none"/>
<circle cx="601" cy="610.7" r="0.7" fill="#d8d8d8" stroke="none"/>
<circle cx="390.4" cy="617.8" r="0.6" fill="#cfcfcf" stroke="none"/>
<circle cx="768.7" cy="622.7" r="0.8" fill="#cfcfcf" stroke="none"/>
<circle cx="302.8" cy="615.8" r="0.5" fill="#e2e2e2" stroke="none"/>
<circle cx="398.9" cy="619.2" r="0.7" fill="#bdbdbd" stroke="none"/>
<circle cx="396.3" cy="608.8" r="0.7" fill="#d8d8d8" stroke="none"/>
<circle cx="103.6" cy="606.2" r="0.7" fill="#e6e6e6" stroke="none"/>
<circle cx="616.6" cy="611.3" r="0.4" fill="#cfcfcf" stroke="none"/>
<circle cx="776.2" cy="615.5" r="0.6" fill="#e6e6e6" stroke="none"/>
<circle cx="611.1" cy="618" r="0.4" fill="#e2e2e2" stroke="none"/>
<circle cx="486.9" cy="616.8" r="0.7" fill="#e6e6e6" stroke="none"/>
<circle cx="125" cy="622.8" r="0.4" fill="#cfcfcf" stroke="none"/>
<circle cx="452.3" cy="600.1" r="0.4" fill="#d8d8d8" stroke="none"/>
<circle cx="796.3" cy="610.7" r="0.5" fill="#e2e2e2" stroke="none"/>
<circle cx="715.6" cy="609.1" r="0.4" fill="#e2e2e2" stroke="none"/>
<circle cx="179.2" cy="604.8" r="0.5" fill="#cfcfcf" stroke="none"/>
<circle cx="347.1" cy="614.9" r="0.4" fill="#e2e2e2" stroke="none"/>
<circle cx="608.3" cy="622.1" r="0.5" fill="#bdbdbd" stroke="none"/>
<circle cx="753" cy="609.7" r="0.4" fill="#bdbdbd" stroke="none"/>
<circle cx="129.6" cy="602.8" r="0.6" fill="#e2e2e2" stroke="none"/>
<circle cx="637.7" cy="614.2" r="0.4" fill="#e2e2e2" stroke="none"/>
<circle cx="391.4" cy="613.8" r="0.7" fill="#cfcfcf" stroke="none"/>
<circle cx="438" cy="607.4" r="0.7" fill="#e6e6e6" stroke="none"/>
<circle cx="92.4" cy="610.8" r="0.4" fill="#cfcfcf" stroke="none"/>
<circle cx="85.6" cy="613.3" r="0.6" fill="#e6e6e6" stroke="none"/>
<circle cx="624.6" cy="620.5" r="0.8" fill="#bdbdbd" stroke="none"/>
<circle cx="499.4" cy="611.6" r="0.7" fill="#e2e2e2" stroke="none"/>
<circle cx="374.2" cy="608.3" r="0.7" fill="#e2e2e2" stroke="none"/>
<circle cx="719.5" cy="613.6" r="0.8" fill="#cfcfcf" stroke="none"/>
<circle cx="732.7" cy="616.9" r="0.4" fill="#e6e6e6" stroke="none"/>
<circle cx="365.9" cy="621.2" r="0.7" fill="#d8d8d8" stroke="none"/>
<circle cx="354.7" cy="616.2" r="0.8" fill="#d8d8d8" stroke="none"/>
<circle cx="131.7" cy="620" r="0.4" fill="#cfcfcf" stroke="none"/>
<circle cx="724.6" cy="619.1" r="0.5" fill="#d8d8d8" stroke="none"/>
<circle cx="402.6" cy="614.1" r="0.4" fill="#e2e2e2" stroke="none"/>
<circle cx="357.3" cy="609.6" r="0.5" fill="#e2e2e2" stroke="none"/>
<circle cx="81" cy="614.5" r="0.4" fill="#cfcfcf" stroke="none"/>
<circle cx="457" cy="613.9" r="0.6" fill="#cfcfcf" stroke="none"/>
<circle cx="246.5" cy="615.4" r="0.4" fill="#d8d8d8" stroke="none"/>
<circle cx="753.7" cy="616.6" r="0.5" fill="#d8d8d8" stroke="none"/>
<circle cx="38.2" cy="627.2" r="0.5" fill="#e2e2e2" stroke="none"/>
<circle cx="111.5" cy="603.3" r="0.5" fill="#cfcfcf" stroke="none"/>
<circle cx="442.8" cy="621.2" r="0.6" fill="#bdbdbd" stroke="none"/>
<circle cx="576.1" cy="616.7" r="0.5" fill="#e2e2e2" stroke="none"/>
<circle cx="64.9" cy="616.1" r="0.6" fill="#d8d8d8" stroke="none"/>
<circle cx="658.5" cy="625.2" r="0.5" fill="#d8d8d8" stroke="none"/>
<circle cx="105" cy="620.9" r="0.5" fill="#d8d8d8" stroke="none"/>
<circle cx="456.2" cy="619.2" r="0.4" fill="#e2e2e2" stroke="none"/>
<circle cx="583.6" cy="612.9" r="0.8" fill="#d8d8d8" stroke="none"/>
<circle cx="219.2" cy="620.8" r="0.6" fill="#cfcfcf" stroke="none"/>
<circle cx="173.6" cy="627.6" r="0.6" fill="#e6e6e6" stroke="none"/>
<circle cx="150.8" cy="614.3" r="0.4" fill="#cfcfcf" stroke="none"/>
<circle cx="21" cy="615.9" r="0.6" fill="#bdbdbd" stroke="none"/>
<circle cx="160.2" cy="601.2" r="0.6" fill="#d8d8d8" stroke="none"/>
<circle cx="535.2" cy="617.2" r="0.6" fill="#e6e6e6" stroke="none"/>
<circle cx="729.4" cy="620.1" r="0.8" fill="#e2e2e2" stroke="none"/>
<circle cx="285" cy="614" r="0.5" fill="#e2e2e2" stroke="none"/>
<circle cx="288.9" cy="618" r="0.6" fill="#d8d8d8" stroke="none"/>
<circle cx="722.2" cy="616.1" r="0.4" fill="#e6e6e6" stroke="none"/>
<circle cx="74.8" cy="621.6" r="0.6" fill="#cfcfcf" stroke="none"/>
<circle cx="569.8" cy="604.8" r="0.6" fill="#d8d8d8" stroke="none"/>
<circle cx="134.2" cy="610.6" r="0.8" fill="#cfcfcf" stroke="none"/>
<circle cx="451.3" cy="616.6" r="0.4" fill="#e2e2e2" stroke="none"/>
<circle cx="724.3" cy="615.8" r="0.5" fill="#cfcfcf" stroke="none"/>
<circle cx="392.4" cy="618.7" r="0.6" fill="#bdbdbd" stroke="none"/>
<circle cx="208" cy="615.4" r="0.4" fill="#d8d8d8" stroke="none"/>
<circle cx="483.7" cy="612.4" r="0.4" fill="#e6e6e6" stroke="none"/>
<circle cx="253.7" cy="615.9" r="0.7" fill="#bdbdbd" stroke="none"/>
<circle cx="132.4" cy="622.9" r="0.5" fill="#bdbdbd" stroke="none"/>
<circle cx="271.5" cy="618.4" r="0.6" fill="#bdbdbd" stroke="none"/>
<circle cx="41.6" cy="614.7" r="0.6" fill="#bdbdbd" stroke="none"/>
<circle cx="603.4" cy="616.3" r="0.7" fill="#bdbdbd" stroke="none"/>
<circle cx="468.7" cy="612" r="0.7" fill="#d8d8d8" stroke="none"/>
<circle cx="481.4" cy="622.1" r="0.4" fill="#e2e2e2" stroke="none"/>
<circle cx="40.1" cy="609.3" r="0.8" fill="#cfcfcf" stroke="none"/>
<circle cx="312.6" cy="613.2" r="0.6" fill="#d8d8d8" stroke="none"/>
<circle cx="560.1" cy="615.6" r="0.5" fill="#e6e6e6" stroke="none"/>
<circle cx="378" cy="627.6" r="0.4" fill="#bdbdbd" stroke="none"/>
<circle cx="434.2" cy="620.9" r="0.5" fill="#e6e6e6" stroke="none"/>
<circle cx="66.6" cy="614.1" r="0.5" fill="#e2e2e2" stroke="none"/>
<circle cx="535" cy="624.7" r="0.6" fill="#e6e6e6" stroke="none"/>
<circle cx="317.4" cy="606" r="0.6" fill="#d8d8d8" stroke="none"/>
<circle cx="529.2" cy="616.2" r="0.6" fill="#d8d8d8" stroke="none"/>
<circle cx="276.1" cy="609.7" r="0.6" fill="#bdbdbd" stroke="none"/>
<circle cx="16.1" cy="607.5" r="0.6" fill="#d8d8d8" stroke="none"/>
<circle cx="797.6" cy="618.4" r="0.5" fill="#e6e6e6" stroke="none"/>
<circle cx="426.5" cy="617.5" r="0.6" fill="#e6e6e6" stroke="none"/>
<circle cx="630.5" cy="622.6" r="0.8" fill="#cfcfcf" stroke="none"/>
<circle cx="768.1" cy="614.7" r="0.5" fill="#d8d8d8" stroke="none"/>
<circle cx="68.2" cy="595.6" r="0.5" fill="#cfcfcf" stroke="none"/>
<circle cx="752.1" cy="614.2" r="0.4" fill="#e2e2e2" stroke="none"/>
<circle cx="79.5" cy="614.9" r="0.4" fill="#cfcfcf" stroke="none"/>
<circle cx="673.7" cy="610.3" r="0.5" fill="#bdbdbd" stroke="none"/>
<circle cx="97.7" cy="610.3" r="0.5" fill="#e6e6e6" stroke="none"/>
<circle cx="135.5" cy="620.3" r="0.7" fill="#e6e6e6" stroke="none"/>
<circle cx="336" cy="614.1" r="0.5" fill="#e6e6e6" stroke="none"/>
<circle cx="689.9" cy="608.8" r="0.5" fill="#d8d8d8" stroke="none"/>
<circle cx="281.4" cy="603.6" r="0.7" fill="#e2e2e2" stroke="none"/>
<circle cx="739.9" cy="623.5" r="0.5" fill="#cfcfcf" stroke="none"/>
<circle cx="58.9" cy="605.7" r="0.5" fill="#d8d8d8" stroke="none"/>
<circle cx="354.4" cy="622.7" r="0.7" fill="#cfcfcf" stroke="none"/>
<circle cx="234.4" cy="623.4" r="0.5" fill="#e2e2e2" stroke="none"/>
<circle cx="222.3" cy="617.8" r="0.5" fill="#bdbdbd" stroke="none"/>
<circle cx="635.4" cy="616.4" r="0.7" fill="#d8d8d8" stroke="none"/>
<circle cx="519.5" cy="608.8" r="0.6" fill="#bdbdbd" stroke="none"/>
<circle cx="591.7" cy="624.3" r="0.6" fill="#e6e6e6" stroke="none"/>
<circle cx="118.8" cy="618" r="0.6" fill="#cfcfcf" stroke="none"/>
<circle cx="748.3" cy="611.5" r="0.5" fill="#e6e6e6" stroke="none"/>
<circle cx="248.4" cy="613.9" r="0.5" fill="#cfcfcf" stroke="none"/>
<circle cx="200.3" cy="606.1" r="0.4" fill="#d8d8d8" stroke="none"/>
<circle cx="137.6" cy="615.9" r="0.6" fill="#e2e2e2" stroke="none"/>
<circle cx="666.8" cy="608.7" r="0.8" fill="#cfcfcf" stroke="none"/>
<circle cx="372.3" cy="612.9" r="0.6" fill="#e2e2e2" stroke="none"/>
<circle cx="204.7" cy="618.5" r="0.5" fill="#cfcfcf" stroke="none"/>
<circle cx="216.3" cy="621.8" r="0.4" fill="#bdbdbd" stroke="none"/>
<circle cx="22.3" cy="619.1" r="0.4" fill="#bdbdbd" stroke="none"/>
<circle cx="226" cy="610.7" r="0.6" fill="#d8d8d8" stroke="none"/>
<circle cx="473.5" cy="609.2" r="0.6" fill="#bdbdbd" stroke="none"/>
<circle cx="708.4" cy="622" r="0.4" fill="#e2e2e2" stroke="none"/>
<circle cx="736" cy="608.5" r="0.8" fill="#e6e6e6" stroke="none"/>
<circle cx="696.8" cy="620.7" r="0.4" fill="#d8d8d8" stroke="none"/>
<circle cx="352.1" cy="615.9" r="0.6" fill="#bdbdbd" stroke="none"/>
<circle cx="65.5" cy="604.2" r="0.7" fill="#bdbdbd" stroke="none"/>
<circle cx="797.4" cy="615" r="0.4" fill="#e2e2e2" stroke="none"/>
<circle cx="797.1" cy="617.9" r="0.8" fill="#d8d8d8" stroke="none"/>
<circle cx="593.5" cy="608.9" r="0.4" fill="#e6e6e6" stroke="none"/>
<circle cx="638.4" cy="606.8" r="0.7" fill="#d8d8d8" stroke="none"/>
<circle cx="195.3" cy="622.6" r="0.8" fill="#cfcfcf" stroke="none"/>
<circle cx="515.9" cy="610.8" r="0.6" fill="#bdbdbd" stroke="none"/>
<circle cx="574.6" cy="616.7" r="0.8" fill="#bdbdbd" stroke="none"/>
<circle cx="162" cy="616.5" r="0.5" fill="#cfcfcf" stroke="none"/>
<circle cx="495.3" cy="620.1" r="0.5" fill="#e6e6e6" stroke="none"/>
<circle cx="263.5" cy="615.3" r="0.6" fill="#e2e2e2" stroke="none"/>
<circle cx="197.1" cy="615.3" r="0.4" fill="#cfcfcf" stroke="none"/>
<circle cx="164" cy="630.3" r="0.4" fill="#e6e6e6" stroke="none"/>
<circle cx="191.5" cy="609.9" r="0.4" fill="#e6e6e6" stroke="none"/>
<circle cx="281.2" cy="617.6" r="0.5" fill="#e6e6e6" stroke="none"/>
<circle cx="328.6" cy="620" r="0.4" fill="#bdbdbd" stroke="none"/>
<circle cx="409.5" cy="615.2" r="0.5" fill="#e2e2e2" stroke="none"/>
<circle cx="673.5" cy="615.5" r="0.4" fill="#cfcfcf" stroke="none"/>
<circle cx="513.6" cy="619.2" r="0.4" fill="#bdbdbd" stroke="none"/>
<circle cx="187.8" cy="607.3" r="0.4" fill="#bdbdbd" stroke="none"/>
<circle cx="326.3" cy="619.4" r="0.4" fill="#e2e2e2" stroke="none"/>
<circle cx="491.2" cy="606.9" r="0.5" fill="#e2e2e2" stroke="none"/>
<circle cx="737.1" cy="619.8" r="0.7" fill="#cfcfcf" stroke="none"/>
<circle cx="818" cy="619.9" r="0.6" fill="#e2e2e2" stroke="none"/>
<circle cx="433.2" cy="612.8" r="0.4" fill="#e6e6e6" stroke="none"/>
<circle cx="546.8" cy="610.8" r="0.5" fill="#cfcfcf" stroke="none"/>
<circle cx="94.7" cy="619" r="0.5" fill="#d8d8d8" stroke="none"/>
<circle cx="292.1" cy="618" r="0.5" fill="#e2e2e2" stroke="none"/>
<circle cx="631.7" cy="614.1" r="0.7" fill="#cfcfcf" stroke="none"/>
<circle cx="358" cy="621.5" r="0.6" fill="#cfcfcf" stroke="none"/>
<circle cx="369.3" cy="617.1" r="0.5" fill="#cfcfcf" stroke="none"/>
<circle cx="736.2" cy="621.1" r="0.4" fill="#e6e6e6" stroke="none"/>
<circle cx="34.4" cy="616.2" r="0.7" fill="#d8d8d8" stroke="none"/>
<circle cx="56.5" cy="615.7" r="0.5" fill="#bdbdbd" stroke="none"/>
<circle cx="227.7" cy="617" r="0.4" fill="#bdbdbd" stroke="none"/>
<circle cx="613.6" cy="609.9" r="0.4" fill="#cfcfcf" stroke="none"/>
<circle cx="621.1" cy="602.3" r="0.4" fill="#d8d8d8" stroke="none"/>
<circle cx="196.4" cy="600.1" r="0.7" fill="#e6e6e6" stroke="none"/>
<circle cx="749.6" cy="617.3" r="0.4" fill="#e6e6e6" stroke="none"/>
<circle cx="410.2" cy="628.9" r="0.7" fill="#cfcfcf" stroke="none"/>
<circle cx="635.1" cy="615.8" r="0.5" fill="#bdbdbd" stroke="none"/>
<circle cx="707.1" cy="604.8" r="0.4" fill="#bdbdbd" stroke="none"/>
<circle cx="166.6" cy="617.6" r="0.5" fill="#e2e2e2" stroke="none"/>
<circle cx="58.7" cy="622.4" r="0.4" fill="#cfcfcf" stroke="none"/>
<circle cx="353.2" cy="616.6" r="0.8" fill="#d8d8d8" stroke="none"/>
<circle cx="221.6" cy="617.3" r="0.8" fill="#e6e6e6" stroke="none"/>
<circle cx="797.3" cy="616.4" r="0.5" fill="#e2e2e2" stroke="none"/>
<circle cx="345.3" cy="608.5" r="0.7" fill="#bdbdbd" stroke="none"/>
<circle cx="546.8" cy="608.8" r="0.7" fill="#d8d8d8" stroke="none"/>
<circle cx="245.3" cy="614.1" r="0.7" fill="#cfcfcf" stroke="none"/>
<circle cx="168.1" cy="619.7" r="0.4" fill="#e2e2e2" stroke="none"/>
<circle cx="197.7" cy="612.4" r="0.5" fill="#e2e2e2" stroke="none"/>
<circle cx="328.4" cy="627.8" r="0.6" fill="#e2e2e2" stroke="none"/>
<circle cx="194.3" cy="618.1" r="0.4" fill="#d8d8d8" stroke="none"/>
<circle cx="392.5" cy="606.8" r="0.7" fill="#e2e2e2" stroke="none"/>
<circle cx="750.3" cy="619.8" r="0.4" fill="#d8d8d8" stroke="none"/>
<circle cx="494.8" cy="616.3" r="0.4" fill="#bdbdbd" stroke="none"/>
<circle cx="67.1" cy="611.3" r="0.5" fill="#bdbdbd" stroke="none"/>
<circle cx="639.1" cy="614.7" r="0.4" fill="#d8d8d8" stroke="none"/>
<circle cx="491.3" cy="611.9" r="0.5" fill="#cfcfcf" stroke="none"/>
<circle cx="42" cy="612.1" r="0.4" fill="#cfcfcf" stroke="none"/>
<circle cx="302.8" cy="620.3" r="0.6" fill="#555" stroke="none"/>
<circle cx="313.8" cy="619.6" r="0.6" fill="#555" stroke="none"/>
<circle cx="543.9" cy="616" r="0.6" fill="#555" stroke="none"/>
<circle cx="553.5" cy="613.6" r="0.6" fill="#555" stroke="none"/>
<circle cx="542.4" cy="617" r="0.6" fill="#555" stroke="none"/>
<circle cx="305.8" cy="616.3" r="0.6" fill="#555" stroke="none"/>
<circle cx="112" cy="151.5" r="0.9" fill="#333" stroke="none"/>
<circle cx="117.5" cy="152.3" r="0.7" fill="#555" stroke="none"/>
<circle cx="104.5" cy="155.5" r="0.6" fill="#666" stroke="none"/>
<circle cx="78.5" cy="801" r="0.6" fill="#444" stroke="none"/>
<circle cx="359.5" cy="1097.5" r="0.7" fill="#333" stroke="none"/>
<circle cx="36" cy="683" r="0.5" fill="#888" stroke="none"/>
<circle cx="697.5" cy="745.5" r="0.6" fill="#555" stroke="none"/>
<circle cx="700" cy="893" r="0.6" fill="#666" stroke="none"/>
<rect x="0" y="0" width="2.2" height="28" fill="#d9d9d9" stroke="none"/>
</g>
<g>
<circle cx="20.3" cy="39.8" r="10.2" fill="url(#holeA)"/>
<circle cx="20.3" cy="77.1" r="10.2" fill="url(#holeA)"/>
<circle cx="20.3" cy="114.3" r="10.2" fill="url(#holeA)"/>
<circle cx="20.3" cy="151.6" r="10.2" fill="url(#holeA)"/>
<circle cx="20.3" cy="188.8" r="10.2" fill="url(#holeA)"/>
<circle cx="20.3" cy="226.1" r="10.2" fill="url(#holeA)"/>
<circle cx="20.3" cy="263.4" r="10.2" fill="url(#holeA)"/>
<circle cx="20.3" cy="300.6" r="10.2" fill="url(#holeA)"/>
<circle cx="20.3" cy="337.9" r="10.2" fill="url(#holeA)"/>
<circle cx="20.3" cy="375.1" r="10.2" fill="url(#holeA)"/>
<circle cx="21.7" cy="415.6" r="11.8" fill="url(#holeB)"/>
<circle cx="20.3" cy="449.7" r="10.5" fill="url(#holeB)"/>
<circle cx="20.3" cy="486.9" r="10.5" fill="url(#holeB)"/>
<circle cx="20.3" cy="524.2" r="10.5" fill="url(#holeB)"/>
<circle cx="20.3" cy="561.4" r="10.5" fill="url(#holeB)"/>
<circle cx="20.3" cy="598.7" r="10.5" fill="url(#holeB)"/>
<circle cx="20.3" cy="636" r="10.5" fill="url(#holeB)"/>
<circle cx="20.3" cy="673.2" r="10.5" fill="url(#holeB)"/>
<circle cx="20.3" cy="710.5" r="10.5" fill="url(#holeB)"/>
<circle cx="20.3" cy="747.7" r="10.5" fill="url(#holeB)"/>
<circle cx="20.3" cy="785" r="10.8" fill="url(#holeC)"/>
<circle cx="20.3" cy="822.3" r="10.8" fill="url(#holeC)"/>
<circle cx="20.3" cy="859.5" r="10.8" fill="url(#holeC)"/>
<circle cx="20.3" cy="896.8" r="10.8" fill="url(#holeC)"/>
<circle cx="20.3" cy="934" r="10.8" fill="url(#holeC)"/>
<circle cx="20.3" cy="971.3" r="10.8" fill="url(#holeC)"/>
<circle cx="20.3" cy="1008.6" r="10.8" fill="url(#holeC)"/>
<circle cx="20.3" cy="1045.8" r="10.8" fill="url(#holeC)"/>
<circle cx="20.3" cy="1083.1" r="10.8" fill="url(#holeC)"/>
<circle cx="20.3" cy="1120.3" r="10.8" fill="url(#holeC)"/>
</g>
</svg>
</body>
</html>
